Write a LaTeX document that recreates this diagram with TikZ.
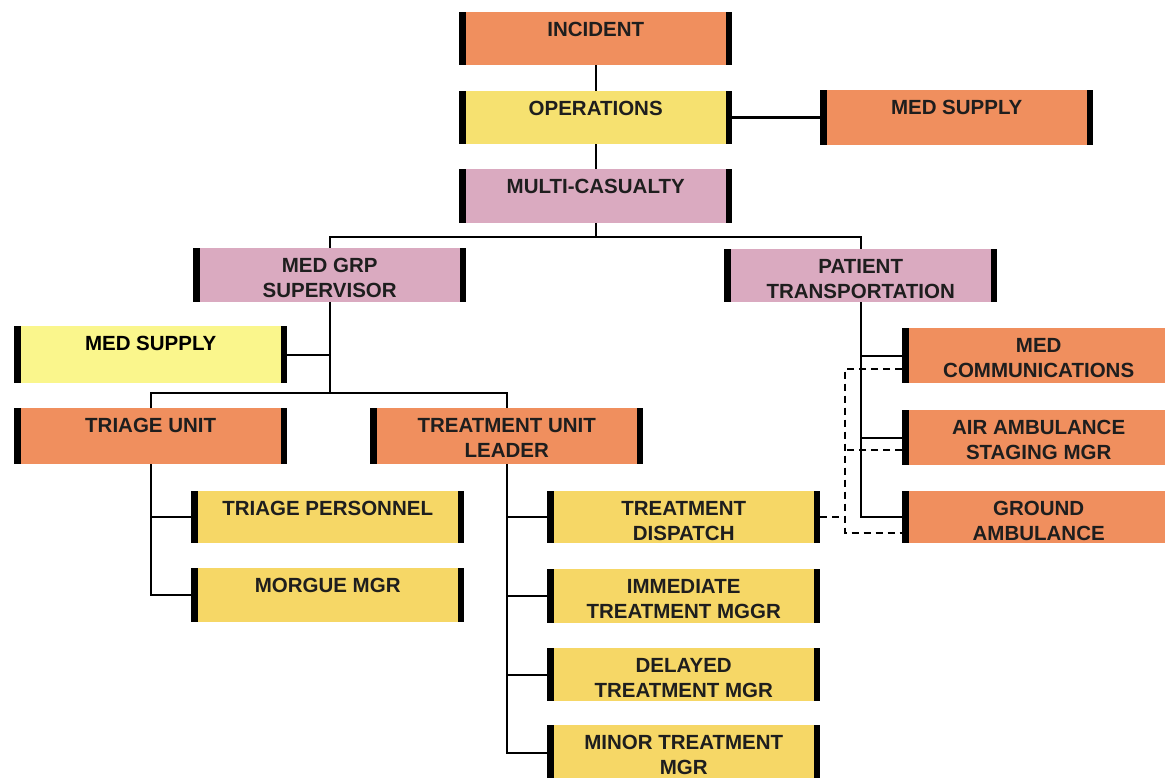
\documentclass[tikz,border=0pt]{standalone}
\usepackage{fontspec}
\setmainfont{Liberation Sans}
\definecolor{org}{HTML}{F08F5E}
\definecolor{yel}{HTML}{F6D766}
\definecolor{yelop}{HTML}{F6E170}
\definecolor{pnk}{HTML}{DAAAC0}
\definecolor{lem}{HTML}{FAF68C}
\definecolor{txt}{HTML}{1E1E1E}
\tikzset{
  box/.style={fill=#1, minimum width=273pt, inner sep=0pt, anchor=north west,
    path picture={
      \fill[black] (path picture bounding box.north west) rectangle ([xshift=6.5pt]path picture bounding box.south west);
      \fill[black] ([xshift=-6.5pt]path picture bounding box.north east) rectangle (path picture bounding box.south east);
    }},
  conn/.style={draw=black, line width=2.4pt},
  dsh/.style={draw=black, line width=2pt, dash pattern=on 7pt off 5pt}
}
\newcommand\bx[6]{\node[box=#2] (#1) at (#3pt,-#4pt) {\parbox[t][#5pt][t]{262pt}{\centering\fontsize{20.5}{25}\selectfont\bfseries\color{txt}\rule{0pt}{24pt}#6}};}
\begin{document}
\begin{tikzpicture}
\clip (0,0) rectangle (1165pt,-778pt);
\fill[white] (0,0) rectangle (1165pt,-778pt);
\bx{inc}{org}{459}{12}{53}{INCIDENT}
\bx{ops}{yelop}{459}{91}{53}{OPERATIONS}
\bx{mc}{pnk}{459}{169}{54}{MULTI-CASUALTY}
\bx{msr}{org}{820}{90}{55}{MED SUPPLY}
\bx{mgs}{pnk}{193}{248}{54}{MED GRP\\SUPERVISOR}
\bx{pt}{pnk}{724}{249}{53}{PATIENT\\TRANSPORTATION}
\bx{msl}{lem}{14}{326}{57}{\color{black}MED SUPPLY}
\bx{tu}{org}{14}{408}{56}{TRIAGE UNIT}
\bx{tul}{org}{370}{408}{56}{TREATMENT UNIT\\LEADER}
\bx{tp}{yel}{191}{491}{52}{TRIAGE PERSONNEL}
\bx{mm}{yel}{191}{568}{54}{MORGUE MGR}
\bx{td}{yel}{547}{491}{52}{TREATMENT\\DISPATCH}
\bx{it}{yel}{547}{569}{54}{IMMEDIATE\\TREATMENT MGGR}
\bx{dt}{yel}{547}{648}{53}{DELAYED\\TREATMENT MGR}
\bx{mt}{yel}{547}{725}{56}{MINOR TREATMENT\\MGR}
\bx{mcm}{org}{902}{328}{55}{MED\\COMMUNICATIONS}
\bx{aa}{org}{902}{410}{55}{AIR AMBULANCE\\STAGING MGR}
\bx{ga}{org}{902}{491}{52}{GROUND\\AMBULANCE}
% connectors
\draw[conn] (inc.south) -- (ops.north);
\draw[conn] (ops.south) -- (mc.north);
\draw[conn] (ops.east) -- (ops.east -| msr.west);
\coordinate (j1) at (0,-237pt);
\draw[conn] (mc.south) -- (mc.south |- j1);
\draw[conn] (mgs.north) -- (mgs.north |- j1) -- (pt.north |- j1) -- (pt.north);
\coordinate (j2) at (0,-393pt);
\draw[conn] (mgs.south) -- (mgs.south |- j2);
\draw[conn] (msl.east) -- (msl.east -| mgs.south);
\draw[conn] (tu.north) -- (tu.north |- j2) -- (tul.north |- j2) -- (tul.north);
\draw[conn] (tu.south) -- (tu.south |- mm.west) -- (mm.west);
\draw[conn] (tp.west) -- (tp.west -| tu.south);
\draw[conn] (tul.south) -- (tul.south |- mt.west) -- (mt.west);
\foreach \n in {td,it,dt} \draw[conn] (\n.west) -- (\n.west -| tul.south);
\draw[conn] (pt.south) -- (pt.south |- ga.west) -- (ga.west);
\foreach \n in {mcm,aa} \draw[conn] (\n.west) -- (\n.west -| pt.south);
\coordinate (dx) at (845pt,0);
\draw[dsh] ([yshift=-13pt]mcm.west) -- ([yshift=-13pt]mcm.west -| dx) -- ([yshift=-16pt]ga.west -| dx) -- ([yshift=-16pt]ga.west);
\draw[dsh] ([yshift=-12pt]aa.west) -- ([yshift=-12pt]aa.west -| dx);
\draw[dsh] (td.east) -- (td.east -| dx);
\end{tikzpicture}
\end{document}
